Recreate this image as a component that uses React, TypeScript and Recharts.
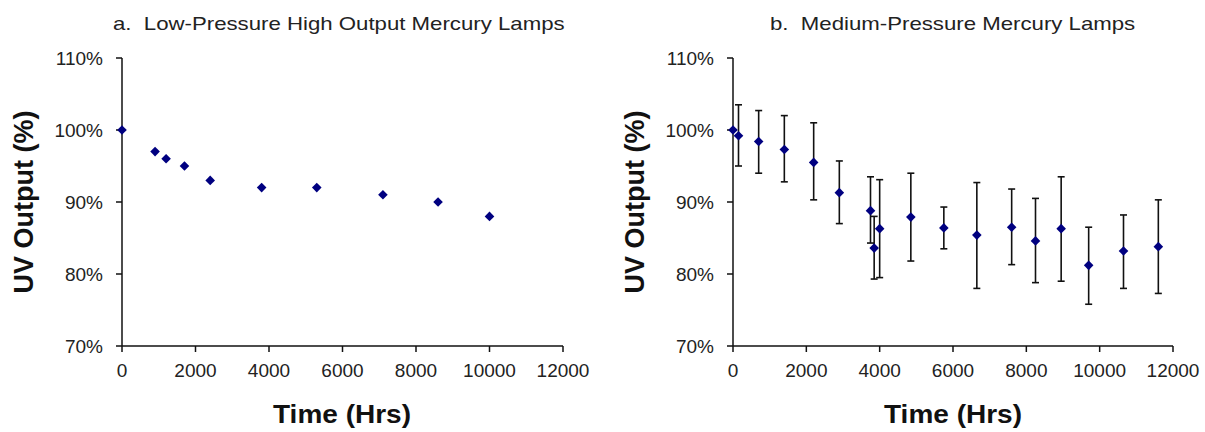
import { CartesianGrid, ErrorBar, Scatter, ScatterChart, XAxis, YAxis } from "recharts"

// a. low-pressure high output lamps
const lpHours = [0, 900, 1200, 1700, 2400, 3800, 5300, 7100, 8600, 10000]
const lpOutput = [100, 97, 96, 95, 93, 92, 92, 91, 90, 88]

// b. medium-pressure lamps (mean with min/max bars)
const mpHours = [0, 150, 700, 1400, 2200, 2900, 3750, 3850, 4000, 4850, 5750, 6650, 7600, 8250, 8950, 9700, 10650, 11600]
const mpOutput = [100, 99.2, 98.4, 97.3, 95.5, 91.3, 88.8, 83.6, 86.3, 87.9, 86.4, 85.4, 86.5, 84.6, 86.3, 81.2, 83.2, 83.8]
const mpLow = [100, 95.0, 94.0, 92.8, 90.3, 87.0, 84.3, 79.3, 79.5, 81.8, 83.5, 78.0, 81.3, 78.8, 79.0, 75.8, 78.0, 77.3]
const mpHigh = [100, 103.5, 102.7, 102.0, 101.0, 95.7, 93.5, 88.0, 93.1, 94.0, 89.3, 92.7, 91.8, 90.5, 93.5, 86.5, 88.2, 90.3]

const xTicks = [0, 2000, 4000, 6000, 8000, 10000, 12000]
const yTicks = [70, 80, 90, 100, 110]

const FONT = "'Liberation Sans', Arial, sans-serif"
const MARKER = "#000080"

const lpData = lpHours.map((h, i) => ({ hours: h, output: lpOutput[i] }))
const mpData = mpHours.map((h, i) => ({
  hours: h,
  output: mpOutput[i],
  err: [mpOutput[i] - mpLow[i], mpHigh[i] - mpOutput[i]],
}))

function Diamond(props: any) {
  const { cx, cy } = props
  const r = 4.8
  return (
    <polygon
      points={`${cx},${cy - r} ${cx + r},${cy} ${cx},${cy + r} ${cx - r},${cy}`}
      fill={MARKER}
    />
  )
}

const tickStyle = { fill: "#222", fontSize: 19, fontFamily: FONT }

function Panel({
  left,
  width,
  rightMargin,
  title,
  titleLeft,
  data,
  withErrors,
}: {
  left: number
  width: number
  rightMargin: number
  title: string
  titleLeft: number
  data: any[]
  withErrors?: boolean
}) {
  return (
    <div style={{ position: "absolute", left, top: 0, width, height: 432 }}>
      <div
        style={{
          position: "absolute",
          left: titleLeft,
          top: 15,
          fontFamily: FONT,
          fontSize: 18.5,
          lineHeight: "18px",
          color: "#222",
          whiteSpace: "pre",
          transform: "scaleX(1.2)",
          transformOrigin: "left top",
        }}
      >
        {title}
      </div>
      <ScatterChart
        width={width}
        height={432}
        margin={{ top: 58, right: rightMargin, bottom: 46, left: 42 }}
      >
        <CartesianGrid stroke="none" />
        <XAxis
          type="number"
          dataKey="hours"
          domain={[0, 12000]}
          ticks={xTicks}
          interval={0}
          height={40}
          tickSize={6}
          tickMargin={12}
          tick={tickStyle}
          axisLine={{ stroke: "#111", strokeWidth: 1.5 }}
          tickLine={{ stroke: "#111", strokeWidth: 1.5 }}
        />
        <YAxis
          type="number"
          dataKey="output"
          domain={[70, 110]}
          ticks={yTicks}
          interval={0}
          width={80}
          tickSize={6}
          tickMargin={13}
          tick={tickStyle}
          tickFormatter={(v) => `${v}%`}
          axisLine={{ stroke: "#111", strokeWidth: 1.5 }}
          tickLine={{ stroke: "#111", strokeWidth: 1.5 }}
        />
        <Scatter data={data} shape={Diamond} isAnimationActive={false}>
          {withErrors && (
            <ErrorBar
              dataKey="err"
              direction="y"
              width={3.5}
              stroke="#111"
              strokeWidth={1.6}
              isAnimationActive={false}
            />
          )}
        </Scatter>
      </ScatterChart>
      <div
        style={{
          position: "absolute",
          left: 24,
          top: 202,
          fontFamily: FONT,
          fontSize: 27,
          fontWeight: "bold",
          lineHeight: "27px",
          whiteSpace: "nowrap",
          color: "#111",
          transform: "translate(-50%, -50%) rotate(-90deg)",
        }}
      >
        UV Output (%)
      </div>
      <div
        style={{
          position: "absolute",
          left: 342,
          top: 402,
          fontFamily: FONT,
          fontSize: 25,
          fontWeight: "bold",
          lineHeight: "25px",
          whiteSpace: "nowrap",
          color: "#111",
          transform: "translateX(-50%) scaleX(1.12)",
        }}
      >
        Time (Hrs)
      </div>
    </div>
  )
}

export default function App() {
  return (
    <div
      style={{
        position: "absolute",
        left: 0,
        top: 0,
        width: 1205,
        height: 432,
        overflow: "hidden",
        background: "#fff",
      }}
    >
      <Panel
        left={0}
        width={600}
        rightMargin={37}
        title="a.  Low-Pressure High Output Mercury Lamps"
        titleLeft={113}
        data={lpData}
      />
      <Panel
        left={611}
        width={594}
        rightMargin={32}
        title="b.  Medium-Pressure Mercury Lamps"
        titleLeft={159}
        data={mpData}
        withErrors
      />
    </div>
  )
}
